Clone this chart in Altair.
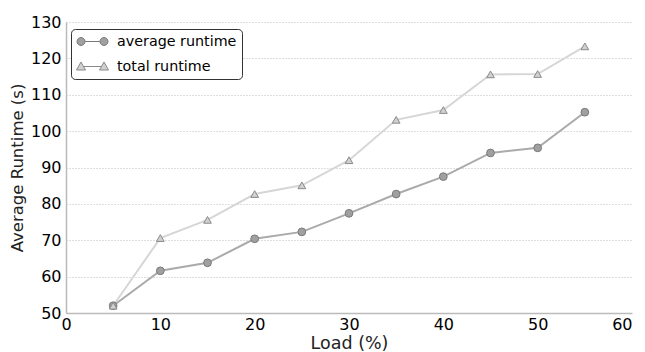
import altair as alt
import pandas as pd

loads = [5, 10, 15, 20, 25, 30, 35, 40, 45, 50, 55]
average_runtime = [52.0, 61.6, 63.8, 70.4, 72.3, 77.4, 82.7, 87.5, 94.0, 95.4, 105.2]
total_runtime = [52.0, 70.6, 75.6, 82.7, 85.1, 92.0, 103.1, 105.8, 115.6, 115.7, 123.3]
series_names = ["average runtime", "total runtime"]

x_ticks = [0, 10, 20, 30, 40, 50, 60]
y_ticks = [50, 60, 70, 80, 90, 100, 110, 120, 130]

rows = []
for x, a, t in zip(loads, average_runtime, total_runtime):
    rows.append({"load": x, "runtime": a, "series": series_names[0]})
    rows.append({"load": x, "runtime": t, "series": series_names[1]})
df = pd.DataFrame(rows)

FONT = "DejaVu Sans"
line_colors = ["#aaaaaa", "#d6d6d6"]
fill_colors = ["#a0a0a0", "#d0d0d0"]
edge_colors = ["#7a7a7a", "#8a8a8a"]

# legend glyphs: a short line with a marker at each end (units scaled by sqrt(size)/2)
circ_path = ("M-1.071,0L1.071,0"
             "M-2.214,0A0.571,0.571 0 1,0 -1.071,0A0.571,0.571 0 1,0 -2.214,0Z"
             "M1.071,0A0.571,0.571 0 1,0 2.214,0A0.571,0.571 0 1,0 1.071,0Z")
tri_path = ("M-1.3,0L1.3,0"
            "M-2.286,0.5L-1.0,0.5L-1.643,-0.643Z"
            "M1.0,0.5L2.286,0.5L1.643,-0.643Z")

legend = alt.Legend(
    title=None,
    orient="none",
    legendX=5,
    legendY=7,
    fillColor="white",
    strokeColor="#333333",
    cornerRadius=4,
    padding=5,
    symbolSize=196,
    symbolOffset=9,
    symbolStrokeWidth=1,
    symbolOpacity=1,
    labelFont=FONT,
    labelFontSize=14.3,
    labelColor="black",
    labelOffset=17,
    rowPadding=10,
)

last_x = x_ticks[-1]
x_enc = alt.X("load:Q", scale=alt.Scale(domain=[0, 60], nice=False),
              axis=alt.Axis(values=x_ticks, title="Load (%)", grid=False, format="d",
                            labelAlign=alt.ExprRef(expr=f"datum.value === {last_x} ? 'right' : 'center'")))
y_enc = alt.Y("runtime:Q", scale=alt.Scale(domain=[50, 130], nice=False, zero=False),
              axis=alt.Axis(values=y_ticks, title="Average Runtime (s)", grid=True, format="d"))

lines = alt.Chart(df).mark_line(strokeWidth=2).encode(
    x=x_enc, y=y_enc,
    color=alt.Color("series:N", scale=alt.Scale(domain=series_names, range=line_colors), legend=None),
    detail="series:N",
)

points = alt.Chart(df).mark_point(filled=True, opacity=1, strokeWidth=1, size=60).encode(
    x=x_enc, y=y_enc,
    shape=alt.Shape("series:N", scale=alt.Scale(domain=series_names, range=["circle", "triangle-up"]), legend=None),
    fill=alt.Fill("series:N", scale=alt.Scale(domain=series_names, range=fill_colors), legend=None),
    stroke=alt.Stroke("series:N", scale=alt.Scale(domain=series_names, range=edge_colors), legend=None),
)

# invisible layer that only carries the legend
legend_layer = alt.Chart(df).mark_point(filled=True, opacity=0, strokeWidth=1).encode(
    x=x_enc, y=y_enc,
    shape=alt.Shape("series:N", scale=alt.Scale(domain=series_names, range=[circ_path, tri_path]), legend=legend),
    fill=alt.Fill("series:N", scale=alt.Scale(domain=series_names, range=fill_colors), legend=legend),
    stroke=alt.Stroke("series:N", scale=alt.Scale(domain=series_names, range=edge_colors), legend=legend),
)

chart = alt.layer(lines, points, legend_layer).resolve_scale(
    color="independent", shape="independent", fill="independent", stroke="independent"
).properties(
    width=566,
    height=291,
    autosize=alt.AutoSizeParams(type="none"),
    padding={"left": 58, "top": 14, "right": 5, "bottom": 38},
).configure_view(stroke=None).configure_axis(
    labelFont=FONT, titleFont=FONT, labelFontSize=16,
    labelColor="black", titleColor="#222222", titleFontWeight="normal",
    domainColor="#bbbbbb", domainWidth=1.5, ticks=False, labelFlush=False,
    gridColor="#bdbdbd", gridDash=[1, 2], gridWidth=1,
).configure_axisY(labelPadding=5, titlePadding=5, titleFontSize=16.5).configure_axisX(
    labelPadding=3, titlePadding=2, titleFontSize=17.5)

chart.save("out.html", embed_options={"renderer": "svg", "actions": False})
